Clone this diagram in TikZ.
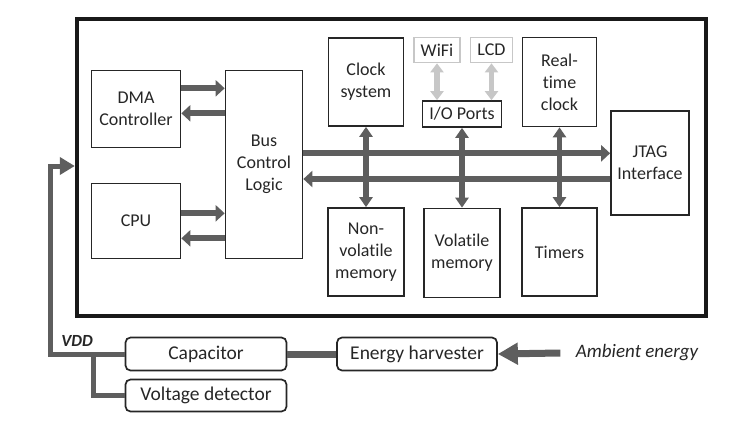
\documentclass[tikz,border=0pt]{standalone}
\usepackage{fontspec}
\setmainfont{Carlito}[Ligatures=NoCommon]
\usetikzlibrary{positioning,calc,arrows.meta}

\begin{document}
\begin{tikzpicture}[x=1pt,y=-1pt,
        every node/.style={font=\fontsize{18}{22}\selectfont,align=center,text=black!85},
        blk/.style={draw=black!85,line width=1.7pt,inner sep=0pt},
        gblk/.style={draw=black!22,line width=1.7pt,inner sep=0pt},
        pbox/.style={draw=black!85,line width=1.7pt,inner sep=0pt,rounded corners=5pt,
                     font=\fontsize{19.5}{22}\selectfont},
        busarr/.style={draw=black!63,line width=6pt,-{Triangle[length=9pt,width=16pt]}},
        dblarr/.style={draw=black!63,line width=5.5pt,
                       {Triangle[length=10pt,width=13pt]}-{Triangle[length=10pt,width=13pt]}},
        ioarr/.style={draw=black!22,line width=5.5pt,
                      {Triangle[length=9pt,width=13pt]}-{Triangle[length=9pt,width=13pt]}},
        pwr/.style={draw=black!63,line width=5pt}]
    \useasboundingbox (0,0) rectangle (746,423);

    %Nodes
    \node[draw=black!90,line width=4pt,minimum width=629,minimum height=297] (mcu) at (391.3,167.5) {};
    \node[blk,minimum width=89,minimum height=77] (dma) at (136,109) {DMA\\Controller};
    \node[blk,minimum width=89,minimum height=75] (cpu) at (136,221) {CPU};
    \node[blk,minimum width=77,minimum height=188] (bus) at (264,164.5) {Bus\\Control\\Logic};
    \node[blk,minimum width=75,minimum height=88] (clk) at (366,82) {Clock\\system};
    \node[gblk,minimum width=46,minimum height=25] (wifi) at (437,50) {WiFi};
    \node[gblk,minimum width=42,minimum height=25] (lcd) at (491.5,50) {LCD};
    \node[blk,minimum width=79,minimum height=26] (io) at (462,114) {I/O Ports};
    \node[blk,minimum width=74,minimum height=89] (rtc) at (559.5,82) {Real-\\time\\clock};
    \node[blk,minimum width=78,minimum height=104] (jtag) at (650,163) {JTAG\\Interface};
    \node[blk,minimum width=76,minimum height=88] (nvm) at (366,252) {Non-\\volatile\\memory};
    \node[blk,minimum width=76,minimum height=89] (vm) at (462,253) {Volatile\\memory};
    \node[blk,minimum width=75,minimum height=88] (tmr) at (559.5,252) {Timers};

    \node[pbox,minimum width=161,minimum height=33] (cap) at (206,354) {Capacitor};
    \node[pbox,minimum width=161,minimum height=32] (vdet) at (206,395.5) {Voltage detector};
    \node[pbox,minimum width=160,minimum height=33] (harv) at (417,354) {Energy harvester};
    \node[font=\itshape\fontsize{19}{22}\selectfont] (amb) at (637,353) {Ambient energy};
    \node[font=\bfseries\itshape\fontsize{17}{20}\selectfont] (vdd) at (77,341) {VDD};
    \coordinate (vin) at (50,166);
    \coordinate (vbr) at (93,354);

    %Lines
    \draw[busarr] ([yshift=20.7pt]dma.east) -- ([yshift=20.7pt]dma.east -| bus.west);
    \draw[busarr] ([yshift=-4.3pt]dma.east -| bus.west) -- ([yshift=-4.3pt]dma.east);
    \draw[busarr] ([yshift=7.7pt]cpu.east) -- ([yshift=7.7pt]cpu.east -| bus.west);
    \draw[busarr] ([yshift=-17.3pt]cpu.east -| bus.west) -- ([yshift=-17.3pt]cpu.east);
    \draw[busarr] ([yshift=9.7pt]jtag.west -| bus.east) -- ([yshift=9.7pt]jtag.west);
    \draw[busarr] ([yshift=-16pt]jtag.west) -- ([yshift=-16pt]jtag.west -| bus.east);

    \draw[dblarr] (clk.south) -- (nvm.north);
    \draw[dblarr] (io.south) -- (vm.north);
    \draw[dblarr] (rtc.south) -- (tmr.north);
    \draw[ioarr] (wifi.south) -- (wifi.south |- io.north);
    \draw[ioarr] (lcd.south) -- (lcd.south |- io.north);

    \draw[pwr,-{Triangle[length=15pt,width=17pt]}] (cap.west) -| (vin) -- (vin -| mcu.west);
    \draw[pwr] (vbr) |- (vdet.west);
    \draw[pwr,line width=7pt] (cap.east) -- (harv.west);
    \draw[pwr,line width=7pt,-{Triangle[length=20pt,width=21pt]}] ([xshift=-12pt]amb.west) -- (harv.east);
\end{tikzpicture}
\end{document}
